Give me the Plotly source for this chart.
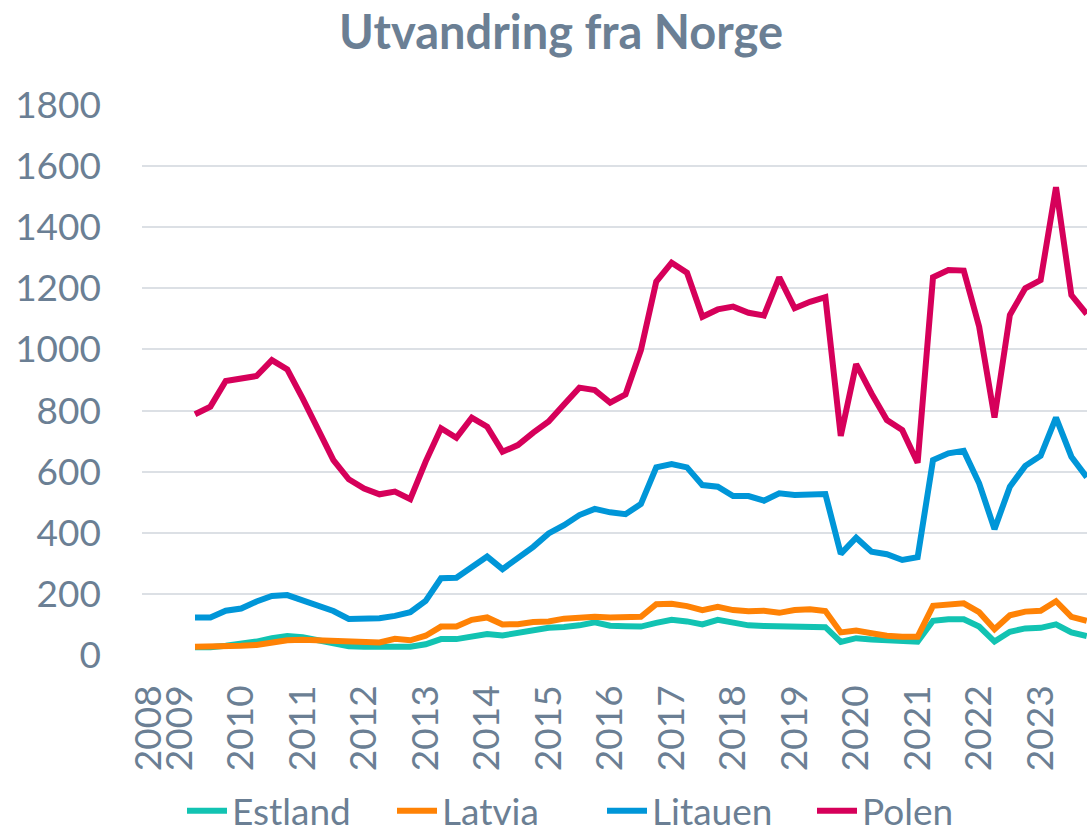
import plotly.graph_objects as go

# ---- data (quarterly emigration from Norway) ----
kvartal = [
    "2009K2", "2009K3", "2009K4",
    "2010K1", "2010K2", "2010K3", "2010K4",
    "2011K1", "2011K2", "2011K3", "2011K4",
    "2012K1", "2012K2", "2012K3", "2012K4",
    "2013K1", "2013K2", "2013K3", "2013K4",
    "2014K1", "2014K2", "2014K3", "2014K4",
    "2015K1", "2015K2", "2015K3", "2015K4",
    "2016K1", "2016K2", "2016K3", "2016K4",
    "2017K1", "2017K2", "2017K3", "2017K4",
    "2018K1", "2018K2", "2018K3", "2018K4",
    "2019K1", "2019K2", "2019K3", "2019K4",
    "2020K1", "2020K2", "2020K3", "2020K4",
    "2021K1", "2021K2", "2021K3", "2021K4",
    "2022K1", "2022K2", "2022K3", "2022K4",
    "2023K1", "2023K2", "2023K3", "2023K4",
]

estland = [25, 25, 30, 35, 44, 55, 62, 58, 49, 38,
           29, 27, 27, 27, 27, 35, 52, 52, 60, 69,
           64, 73, 80, 89, 92, 97, 107, 96, 94, 93,
           105, 115, 110, 100, 115, 104, 97, 95, 94, 92,
           92, 91, 43, 55, 51, 48, 47, 44, 112, 117,
           117, 93, 44, 76, 87, 89, 100, 74, 62]

latvia = [27, 27, 29, 30, 33, 40, 48, 50, 49, 46,
          45, 43, 41, 53, 48, 63, 93, 93, 115, 123,
          100, 101, 108, 110, 119, 122, 125, 123, 123, 125,
          166, 168, 160, 147, 158, 147, 143, 145, 138, 147,
          150, 144, 74, 80, 71, 63, 60, 60, 161, 166,
          169, 140, 84, 130, 142, 145, 176, 125, 112]

litauen = [123, 123, 145, 152, 175, 193, 196, 180, 161, 144,
           118, 119, 120, 128, 140, 177, 251, 253, 289, 322,
           281, 318, 354, 398, 425, 458, 478, 467, 461, 494,
           614, 625, 614, 556, 551, 520, 520, 505, 529, 524,
           527, 527, 331, 384, 338, 330, 311, 320, 638, 660,
           668, 562, 412, 551, 619, 652, 777, 649, 582]

polen = [788, 813, 897, 906, 913, 965, 935, 840, 742, 638,
         575, 545, 526, 535, 510, 633, 742, 711, 777, 747,
         665, 687, 728, 764, 820, 875, 867, 826, 853, 998,
         1222, 1284, 1251, 1107, 1131, 1140, 1120, 1111, 1236, 1135,
         1156, 1171, 717, 952, 856, 769, 736, 629, 1236, 1260,
         1258, 1075, 777, 1113, 1200, 1227, 1531, 1178, 1116]

series_names = ["Estland", "Latvia", "Litauen", "Polen"]
series_values = [estland, latvia, litauen, polen]
series_colors = ["#12C3B2", "#FF8205", "#0096D8", "#D6005A"]

tick_labels = ["2008", "2009", "2010", "2011", "2012", "2013", "2014", "2015",
               "2016", "2017", "2018", "2019", "2020", "2021", "2022", "2023"]
tick_positions = [2008.5] + [float(t) for t in tick_labels[1:]]

# numeric time position for each quarter
x_pos = [int(k[:4]) + (int(k[5]) - 1) / 4 for k in kvartal]

TEXT = "#6B7F94"
GRID = "#DCE0E5"
FONT = "Lato"

fig = go.Figure()
for name, vals, col in zip(series_names, series_values, series_colors):
    fig.add_trace(go.Scatter(
        x=x_pos, y=vals, name=name, mode="lines",
        line=dict(color=col, width=6),
        customdata=kvartal,
        hovertemplate="%{customdata}: %{y}<extra>" + name + "</extra>",
    ))

fig.update_layout(
    width=1087, height=836,
    margin=dict(l=142, r=0, t=105, b=181, autoexpand=False),
    paper_bgcolor="white", plot_bgcolor="white",
    font=dict(family=FONT, color=TEXT, size=37),
    title=dict(
        text="<b>Utvandring fra Norge</b>",
        font=dict(family=FONT, size=47, color=TEXT),
        x=561 / 1087, xanchor="center", xref="container",
        y=1 - 33 / 836, yanchor="middle", yref="container",
        automargin=False,
    ),
    showlegend=True,
    legend=dict(
        orientation="h",
        xref="container", yref="paper",
        x=602 / 1087, xanchor="center",
        y=-0.284, yanchor="middle",
        font=dict(family=FONT, size=37, color=TEXT),
        entrywidth=155, entrywidthmode="pixels",
        itemwidth=40,
        bgcolor="rgba(0,0,0,0)",
    ),
)

fig.update_xaxes(
    range=[2008.388, 2023.754],
    tickmode="array", tickvals=tick_positions, ticktext=tick_labels,
    tickangle=-90, ticklabelstandoff=22,
    showgrid=False, zeroline=False, showline=False, ticks="",
    automargin=False,
    tickfont=dict(family=FONT, size=37, color=TEXT),
)
fig.update_yaxes(
    range=[0, 1800], dtick=200, tick0=0,
    showgrid=True, gridcolor=GRID, gridwidth=2,
    zeroline=False, showline=False, ticks="",
    ticklabelstandoff=40, automargin=False,
    tickfont=dict(family=FONT, size=37, color=TEXT),
)

fig.write_html(
    "out.html",
    config={"displayModeBar": False},
    post_script="document.body.style.margin='0px';",
)
